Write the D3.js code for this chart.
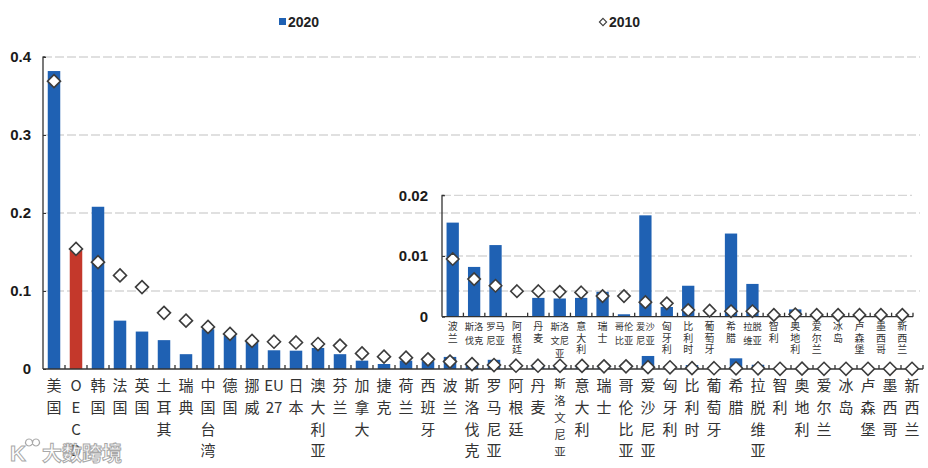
<!DOCTYPE html>
<html>
<head>
<meta charset="utf-8">
<script src="https://cdn.jsdelivr.net/npm/d3@7"></script>
<style>
  html, body { margin: 0; padding: 0; background: #fff; }
  svg { display: block; }
  .vert { writing-mode: vertical-rl; text-orientation: upright; }
</style>
</head>
<body>
<svg id="chart" width="928" height="468"></svg>
<script>
// ---------------- data ----------------
const categories = ["美国","OECD","韩国","法国","英国","土耳其","瑞典","中国台湾","德国","挪威","EU27","日本","澳大利亚","芬兰","加拿大","捷克","荷兰","西班牙","波兰","斯洛伐克","罗马尼亚","阿根廷","丹麦","斯洛文尼亚","意大利","瑞士","哥伦比亚","爱沙尼亚","匈牙利","比利时","葡萄牙","希腊","拉脱维亚","智利","奥地利","爱尔兰","冰岛","卢森堡","墨西哥","新西兰"];
const values2020 = [0.382,0.152,0.208,0.062,0.048,0.037,0.019,0.051,0.043,0.035,0.024,0.0235,0.027,0.019,0.0107,0.0064,0.0107,0.0100,0.0155,0.0082,0.0118,0,0.0031,0.0030,0.0031,0.0041,0.0004,0.0167,0.0016,0.0051,0,0.0137,0.0054,0,0.0012,0,0,0,0,0];
const values2010 = [0.369,0.154,0.137,0.120,0.105,0.072,0.062,0.054,0.045,0.036,0.035,0.034,0.032,0.030,0.020,0.0158,0.0145,0.0124,0.0095,0.0062,0.0051,0.0042,0.0042,0.0041,0.0040,0.0034,0.0034,0.0024,0.0022,0.0011,0.0010,0.0009,0.0009,0.0003,0.0004,0.0003,0.0003,0.0003,0.0003,0.0003];
const highlight = "OECD";
const insetStart = "波兰";
const mainTicks = [0, 0.1, 0.2, 0.3, 0.4];
const insetTicks = [0, 0.01, 0.02];
const seriesNames = ["2020", "2010"];

// ---------------- styles ----------------
const BLUE = "#1f61b3", RED = "#c4382b", DIA = "#3c3c3c", GRID = "#d6d6d6";
const cjk = "'Noto Sans CJK SC','Noto Sans',sans-serif";
const num = "'Liberation Sans',Arial,sans-serif";

const svg = d3.select("#chart");
const data = categories.map((c, i) => ({ c, v20: values2020[i], v10: values2010[i] }));
const insetData = data.slice(categories.indexOf(insetStart));

function diamondPath(cx, cy, r) {
  return `M${cx},${cy - r}L${cx + r},${cy}L${cx},${cy + r}L${cx - r},${cy}Z`;
}

function drawPanel(opts) {
  const { g, rows, x, y, ticks, fmt, gridRight, axisRight, bw, dr, labelPad } = opts;
  const y0 = y(0), xl = x.range()[0];
  g.selectAll(".grid").data(ticks.filter(t => t > 0)).join("line")
    .attr("x1", xl).attr("x2", gridRight)
    .attr("y1", d => y(d)).attr("y2", d => y(d))
    .attr("stroke", GRID).attr("stroke-width", 1.3).attr("stroke-dasharray", "9,3");
  const ya = d3.axisLeft(y).tickValues(ticks).tickFormat(fmt).tickSize(-3).tickPadding(labelPad);
  const yg = g.append("g").attr("transform", `translate(${xl},0)`).call(ya);
  const yTop = y(ticks[ticks.length - 1]);
  yg.select(".domain").attr("stroke", "#333").attr("stroke-width", 1.3).attr("d", `M-0.5,${yTop}H2.5M0,${yTop}V${y0}`);
  yg.selectAll(".tick line").attr("stroke", "#333");
  yg.selectAll(".tick text").attr("font-family", num).attr("font-size", 15).attr("font-weight", "bold").attr("fill", "#1a1a1a");
  g.selectAll(".bar").data(rows).join("rect")
    .attr("x", d => x(d.c) + (x.bandwidth() - bw) / 2)
    .attr("width", bw)
    .attr("y", d => y(d.v20))
    .attr("height", d => y0 - y(d.v20))
    .attr("fill", d => d.c === highlight ? RED : BLUE);
  g.append("line").attr("x1", xl).attr("x2", axisRight).attr("y1", y0).attr("y2", y0)
    .attr("stroke", "#333").attr("stroke-width", 1.3);
  const step = x.step();
  g.selectAll(".xt").data(d3.range(1, rows.length + 1)).join("line")
    .attr("x1", i => xl + i * step).attr("x2", i => xl + i * step)
    .attr("y1", y0).attr("y2", y0 - 4)
    .attr("stroke", "#333").attr("stroke-width", 1.3);
  g.selectAll(".dia").data(rows).join("path")
    .attr("d", d => diamondPath(x(d.c) + x.bandwidth() / 2, y(d.v10), dr))
    .attr("fill", "#fff").attr("stroke", DIA).attr("stroke-width", 1.6);
}

// ---------------- main panel ----------------
const xMain = d3.scaleBand().domain(categories).range([43, 923]).paddingInner(0.45).paddingOuter(0.225);
const yMain = d3.scaleLinear().domain([0, 0.4]).range([369, 57]);
const gMain = svg.append("g");
drawPanel({ g: gMain, rows: data, x: xMain, y: yMain, ticks: mainTicks,
  fmt: d => d === 0 ? "0" : d.toFixed(1), gridRight: 920, axisRight: 923, bw: 12.5, dr: 6.5, labelPad: 12 });

function mainLines(name) {
  if (/^[A-Z]+$/.test(name)) return name.split("");
  if (/^[A-Z]+\d+$/.test(name)) return [name.match(/[A-Z]+/)[0], name.match(/\d+/)[0]];
  return name.split("");
}
gMain.selectAll(".ml").data(data).join("text")
  .attr("text-anchor", "middle").attr("font-family", cjk).attr("fill", "#333")
  .attr("font-size", d => mainLines(d.c).length > 4 ? 11.5 : 15)
  .each(function(d) {
    const lines = mainLines(d.c);
    const long = lines.length > 4;
    const sp = long ? 17 : 21.8;
    const cx = xMain(d.c) + xMain.bandwidth() / 2;
    d3.select(this).selectAll("tspan").data(lines).join("tspan")
      .attr("x", cx).attr("y", (t, i) => (long ? 388 : 391) + i * sp).text(t => t);
  });

// ---------------- inset panel ----------------
const xIn = d3.scaleBand().domain(insetData.map(d => d.c)).range([442, 913]).paddingInner(0.42).paddingOuter(0.21);
const yIn = d3.scaleLinear().domain([0, 0.02]).range([316.7, 195.3]);
const gIn = svg.append("g");
drawPanel({ g: gIn, rows: insetData, x: xIn, y: yIn, ticks: insetTicks,
  fmt: d => d === 0 ? "0" : d.toFixed(2), gridRight: 912, axisRight: 913, bw: 12.3, dr: 6.2, labelPad: 14 });

// short names: one vertical column; long names: rows of two characters
insetData.forEach(d => {
  const cx = xIn(d.c) + xIn.bandwidth() / 2;
  const chars = d.c.split("");
  if (chars.length < 4) {
    gIn.append("text").attr("class", "vert")
      .attr("x", cx).attr("y", 321)
      .attr("font-family", cjk).attr("font-size", 10).attr("fill", "#333")
      .attr("letter-spacing", 1.8)
      .text(d.c);
  } else {
    const rows = [];
    for (let i = 0; i < chars.length; i += 2) rows.push(chars.slice(i, i + 2).join(""));
    rows.forEach((r, i) => {
      gIn.append("text").attr("x", cx).attr("y", 330 + i * 13.6)
        .attr("text-anchor", "middle")
        .attr("font-family", cjk).attr("font-size", 9.3).attr("fill", "#333")
        .text(r);
    });
  }
});

// ---------------- legend ----------------
const lg = svg.append("g").attr("font-family", num).attr("font-size", 14).attr("font-weight", "bold").attr("fill", "#222");
lg.append("rect").attr("x", 279).attr("y", 18).attr("width", 7).attr("height", 7).attr("fill", BLUE);
lg.append("text").attr("x", 288).attr("y", 27).text(seriesNames[0]);
lg.append("path").attr("d", diamondPath(603, 22, 3.6)).attr("fill", "#fff").attr("stroke", DIA).attr("stroke-width", 1.1);
lg.append("text").attr("x", 609).attr("y", 27).text(seriesNames[1]);

// ---------------- watermark ----------------
const wm = svg.append("g").attr("opacity", 0.85);
wm.append("text").attr("x", 10).attr("y", 461).attr("font-family", num).attr("font-size", 22).attr("font-weight", "bold")
  .attr("fill", "#fff").attr("stroke", "#9a9a9a").attr("stroke-width", 1).text("K");
wm.append("path").attr("d", "M29,446 a3.5,3.5 0 1,1 0.01,0 M36,446 a3.5,3.5 0 1,1 0.01,0")
  .attr("fill", "none").attr("stroke", "#9a9a9a").attr("stroke-width", 1.2);
wm.append("text").attr("x", 42).attr("y", 461).attr("font-family", cjk).attr("font-size", 20).attr("font-weight", "bold")
  .attr("fill", "#fff").attr("stroke", "#9a9a9a").attr("stroke-width", 1).text("大数跨境");
</script>
</body>
</html>
